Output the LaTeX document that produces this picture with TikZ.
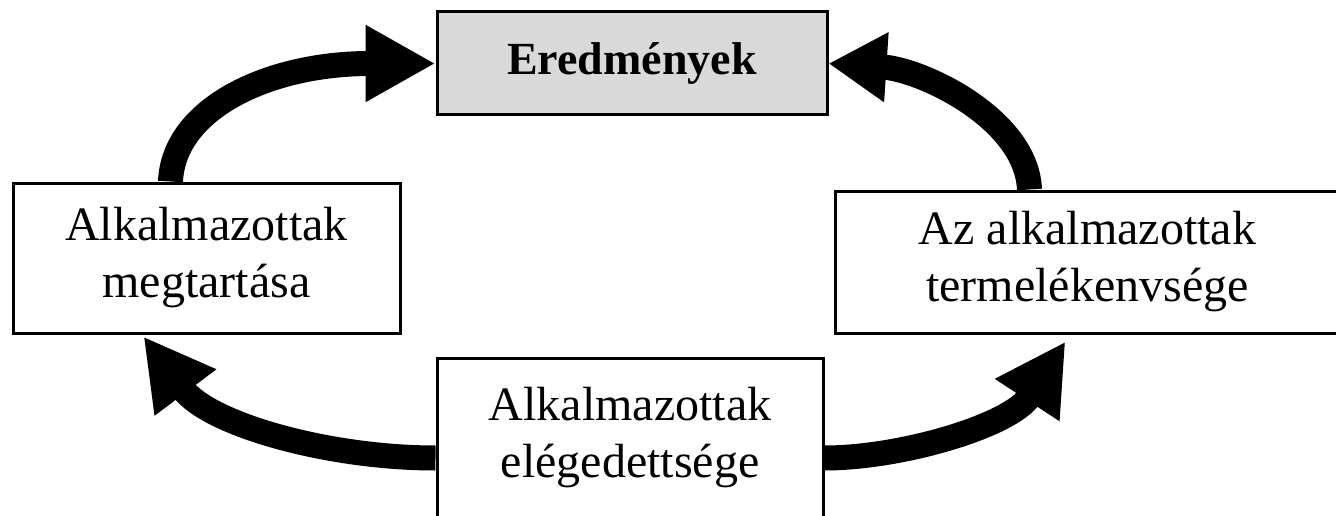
\documentclass[tikz,border=0pt]{standalone}
\usepackage{fontspec}
\setmainfont{Liberation Serif}
\usetikzlibrary{arrows.meta}
\definecolor{boxgray}{HTML}{D9D9D9}
\tikzset{
  box/.style={draw=black, line width=3pt, fill=white, inner sep=0pt, align=center,
    font=\fontsize{48}{57}\selectfont},
  bigarrow/.style={line width=25pt, -{Triangle[length=70pt, width=72pt]}},
}
\begin{document}
\begin{tikzpicture}[x=1pt, y=-1pt]
\useasboundingbox (0,0) rectangle (1336,516);
\node[box, fill=boxgray, minimum width=390pt, minimum height=103pt,
      font=\bfseries\fontsize{46}{55}\selectfont] (E) at (632,63.5) {Eredmények};
\node[box, minimum width=387pt, minimum height=150pt] (L) at (206.5,258) {Alkalmazottak\\megtartása};
\node[box, minimum width=505pt, minimum height=142pt] (R) at (1087.5,262) {Az alkalmazottak\\termelékenvsége};
\node[box, minimum width=386pt, minimum height=160pt] (B) at (630,438) {Alkalmazottak\\elégedettsége};
\draw[bigarrow] ([xshift=159pt]L.north west) .. controls +(3,-73) and +(-167,0) .. (E.west);
\draw[bigarrow, -{Triangle[length=58pt, width=66pt]}] ([xshift=196pt]R.north west) .. controls +(-3,-71) and +(93,6) .. (E.east);
\draw[bigarrow] ([yshift=-20pt]B.west) .. controls +(-107,0) and +(66,88) .. ([xshift=132pt,yshift=-2pt]L.south west);
\draw[bigarrow] ([yshift=-20pt]B.east) .. controls +(77,0) and +(-55,84) .. ([xshift=232pt,yshift=-7pt]R.south west);
\end{tikzpicture}
\end{document}
